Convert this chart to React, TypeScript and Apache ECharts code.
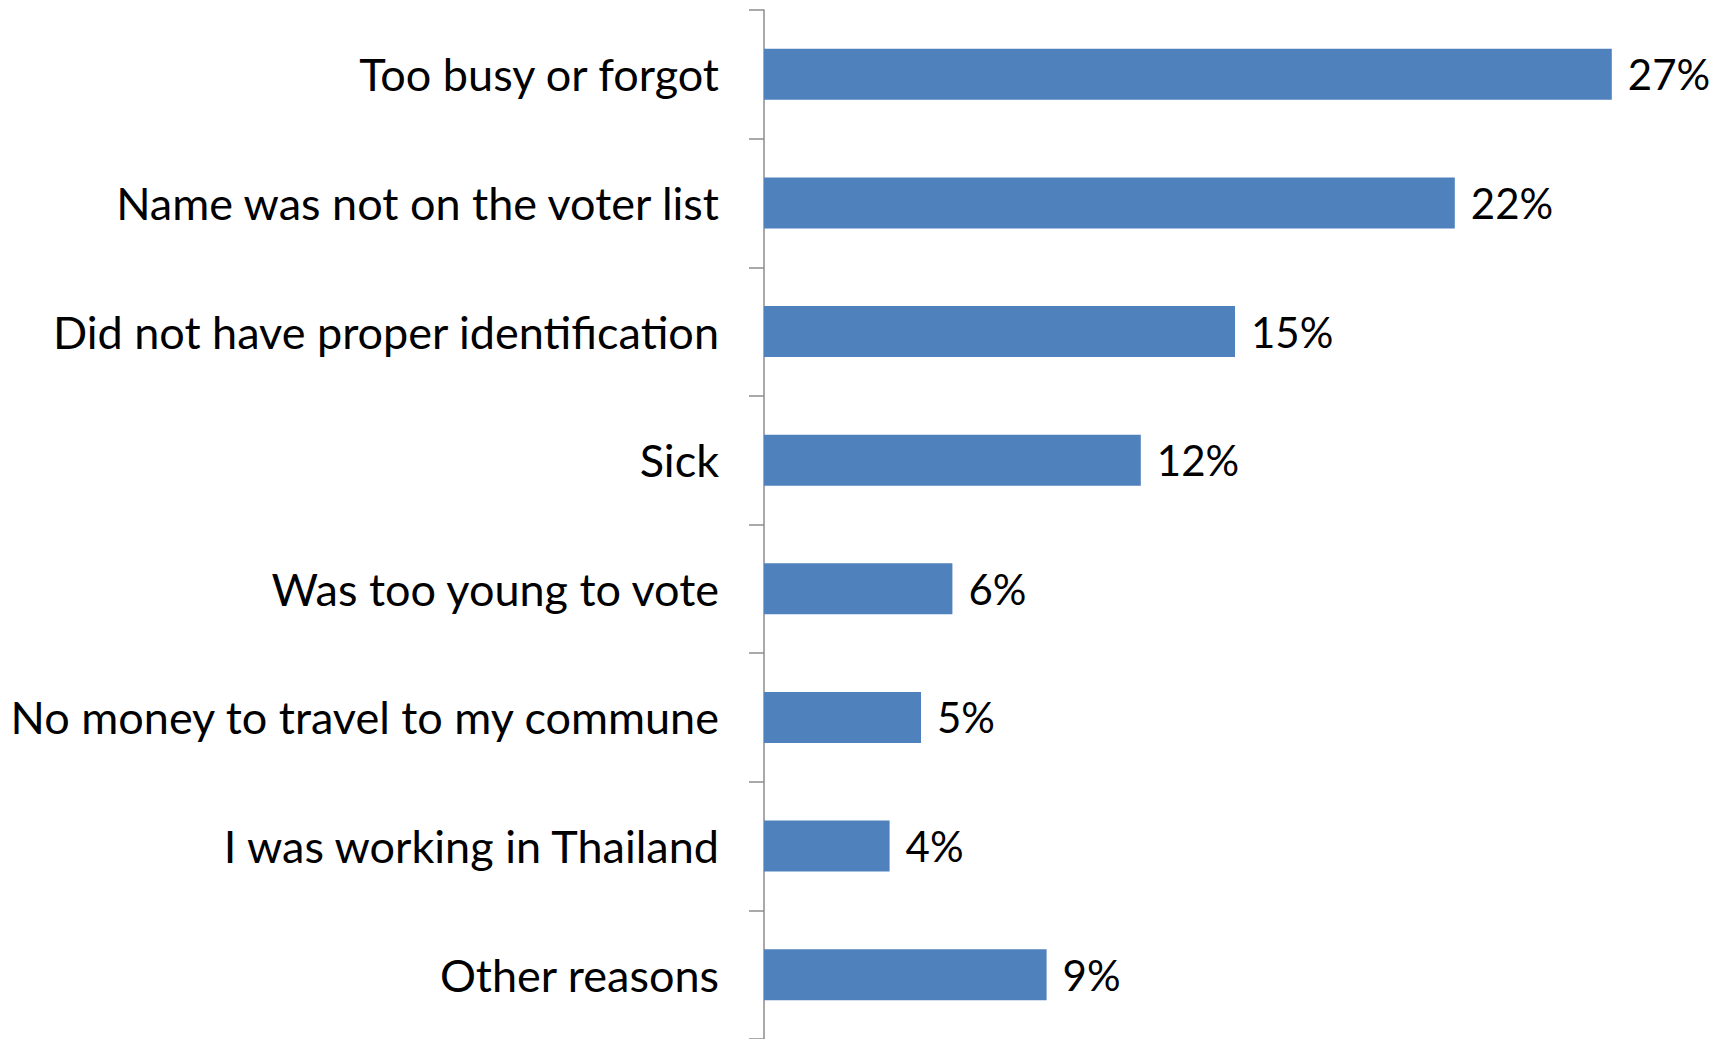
import React, { useEffect, useRef } from "react";
import * as echarts from "echarts";

const categories = [
  "Too busy or forgot",
  "Name was not on the voter list",
  "Did not have proper identification",
  "Sick",
  "Was too young to vote",
  "No money to travel to my commune",
  "I was working in Thailand",
  "Other reasons",
];
const values = [27, 22, 15, 12, 6, 5, 4, 9];

export default function App() {
  const ref = useRef<HTMLDivElement>(null);
  useEffect(() => {
    const chart = echarts.init(ref.current!, null, { renderer: "svg" });
    chart.setOption({
      animation: false,
      backgroundColor: "#ffffff",
      grid: { left: 764, top: 10, width: 942, height: 1032, containLabel: false },
      xAxis: { type: "value", min: 0, max: 30, show: false },
      yAxis: {
        type: "category",
        data: categories,
        inverse: true,
        axisLine: { show: true, lineStyle: { color: "#8c8c8c", width: 1.5 } },
        axisTick: { show: true, length: 15, lineStyle: { color: "#8c8c8c", width: 1.5 } },
        axisLabel: {
          margin: 45,
          color: "#000000",
          fontFamily: "Lato",
          fontSize: 45,
        },
        splitLine: { show: false },
      },
      series: [
        {
          type: "bar",
          data: values,
          barWidth: 51,
          itemStyle: { color: "#4f81bd" },
          label: {
            show: true,
            position: "right",
            distance: 16,
            formatter: "{c}%",
            color: "#000000",
            fontFamily: "Lato",
            fontSize: 42,
          },
        },
      ],
    });
    return () => chart.dispose();
  }, []);
  return (
    <div
      ref={ref}
      style={{ position: "fixed", left: 0, top: 0, width: 1731, height: 1039 }}
    />
  );
}
